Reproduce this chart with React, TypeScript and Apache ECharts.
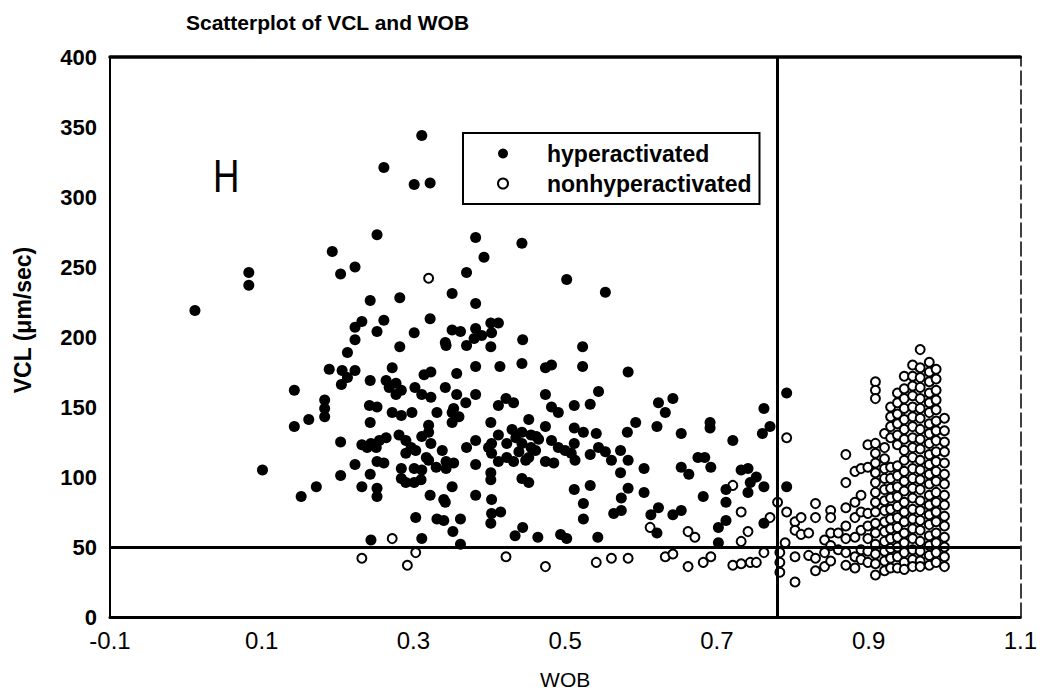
import React, { useEffect, useRef } from "react";
import * as echarts from "echarts";

const FONT = "'Liberation Sans', Arial, Helvetica, sans-serif";

const TITLE = "Scatterplot of VCL and WOB";
const X_NAME = "WOB";
const Y_NAME = "VCL (\u03bcm/sec)";
const PANEL_LABEL = "H";
const SERIES_NAMES = ["hyperactivated", "nonhyperactivated"];

const X_MIN = -0.1;
const X_MAX = 1.1;
const X_TICKS = [-0.1, 0.1, 0.3, 0.5, 0.7, 0.9, 1.1];
const Y_MIN = 0;
const Y_MAX = 400;
const Y_STEP = 50;

const WOB_THRESHOLD = 0.775;
const VCL_THRESHOLD = 50;

// [WOB, VCL]
const hyperactivated: [number, number][] = [
  [0.012, 219], [0.083, 246], [0.083, 237], [0.101, 105],
  [0.143, 162], [0.143, 136], [0.162, 141], [0.152, 86], [0.172, 93],
  [0.183, 155], [0.183, 149], [0.183, 143],
  [0.193, 261], [0.189, 177], [0.204, 245], [0.206, 176], [0.205, 166], [0.204, 125], [0.204, 101],
  [0.213, 189], [0.213, 171],
  [0.223, 250], [0.223, 207], [0.223, 198], [0.223, 176], [0.223, 109],
  [0.232, 211], [0.232, 123], [0.232, 93],
  [0.243, 226], [0.243, 169], [0.242, 151], [0.243, 139], [0.244, 124], [0.239, 121], [0.243, 102], [0.244, 55],
  [0.252, 273], [0.252, 204], [0.252, 150], [0.255, 126], [0.251, 121], [0.252, 111], [0.252, 92], [0.252, 86],
  [0.261, 321], [0.261, 212], [0.264, 169], [0.264, 128], [0.261, 110],
  [0.272, 178], [0.268, 164], [0.272, 146],
  [0.282, 228], [0.282, 193], [0.277, 167], [0.277, 159], [0.284, 162], [0.284, 144], [0.281, 130], [0.284, 106], [0.284, 99],
  [0.29, 126], [0.29, 117], [0.29, 96],
  [0.301, 309], [0.301, 203], [0.302, 164], [0.298, 146], [0.297, 121], [0.303, 119], [0.301, 106], [0.301, 96], [0.303, 71],
  [0.311, 344], [0.314, 173], [0.311, 159], [0.311, 129], [0.317, 114], [0.311, 105], [0.31, 98], [0.311, 56],
  [0.322, 310], [0.322, 213], [0.323, 175], [0.323, 157], [0.32, 137], [0.32, 132], [0.323, 124], [0.32, 112], [0.322, 87],
  [0.331, 146], [0.33, 107], [0.331, 70],
  [0.342, 196], [0.343, 194], [0.342, 164], [0.338, 119], [0.343, 111], [0.343, 106], [0.34, 84], [0.342, 82], [0.34, 69],
  [0.351, 231], [0.351, 205], [0.351, 146], [0.353, 149], [0.351, 139], [0.353, 110], [0.351, 93], [0.352, 61],
  [0.362, 204], [0.357, 174], [0.357, 159], [0.36, 143], [0.362, 70], [0.362, 52],
  [0.37, 246], [0.37, 194], [0.369, 153], [0.37, 121],
  [0.382, 271], [0.382, 224], [0.382, 206], [0.38, 199], [0.382, 179], [0.382, 159], [0.382, 126], [0.382, 109], [0.382, 87],
  [0.393, 257], [0.39, 201],
  [0.402, 210], [0.403, 203], [0.402, 193], [0.402, 139], [0.403, 124], [0.399, 121], [0.403, 117], [0.402, 103], [0.402, 98], [0.403, 84], [0.403, 74], [0.402, 67],
  [0.412, 210], [0.414, 179], [0.412, 151], [0.412, 130], [0.412, 111], [0.415, 75],
  [0.422, 156], [0.423, 124], [0.423, 114],
  [0.432, 153], [0.43, 134], [0.435, 128], [0.432, 111], [0.434, 58],
  [0.443, 267], [0.444, 198], [0.443, 181], [0.443, 132], [0.443, 124], [0.439, 118], [0.448, 112], [0.443, 99], [0.444, 64],
  [0.452, 141], [0.455, 130], [0.455, 121], [0.452, 114], [0.452, 96],
  [0.462, 129], [0.461, 119], [0.465, 127], [0.464, 57],
  [0.474, 178], [0.474, 159], [0.474, 136], [0.474, 111],
  [0.482, 180], [0.482, 150], [0.482, 126], [0.485, 110],
  [0.491, 146], [0.491, 121], [0.494, 59],
  [0.502, 241], [0.5, 119], [0.502, 56],
  [0.512, 151], [0.512, 135], [0.512, 124], [0.508, 117], [0.513, 112], [0.512, 91],
  [0.523, 193], [0.523, 179], [0.524, 132], [0.524, 81], [0.524, 70],
  [0.533, 152], [0.533, 116], [0.533, 94],
  [0.544, 161], [0.541, 131], [0.544, 121], [0.543, 57],
  [0.553, 232], [0.553, 118],
  [0.561, 112], [0.564, 74],
  [0.573, 119], [0.573, 103], [0.574, 85], [0.574, 76],
  [0.583, 175], [0.582, 132], [0.583, 112], [0.583, 92],
  [0.593, 139],
  [0.604, 106], [0.604, 89],
  [0.613, 73],
  [0.623, 153], [0.621, 136], [0.623, 78], [0.621, 60],
  [0.632, 146],
  [0.642, 156], [0.642, 73],
  [0.653, 131], [0.653, 107], [0.653, 76],
  [0.663, 102],
  [0.675, 114],
  [0.684, 114], [0.682, 86],
  [0.691, 139], [0.691, 135], [0.692, 107],
  [0.702, 64], [0.702, 53],
  [0.712, 91], [0.712, 82], [0.712, 69],
  [0.721, 126],
  [0.732, 105],
  [0.741, 106], [0.744, 96], [0.741, 89],
  [0.752, 100],
  [0.762, 149], [0.76, 131], [0.762, 93], [0.762, 67],
  [0.77, 136],
  [0.792, 160], [0.792, 93],
];

// scattered nonhyperactivated cells [WOB, VCL]
const nonhyperScattered: [number, number][] = [
  [0.32, 242], [0.232, 42], [0.272, 56], [0.292, 37], [0.303, 46], [0.422, 43], [0.474, 36],
  [0.541, 39], [0.561, 42], [0.583, 42], [0.612, 64], [0.632, 43], [0.642, 45], [0.662, 36],
  [0.662, 61], [0.671, 57], [0.682, 39], [0.692, 43], [0.721, 94], [0.721, 37], [0.732, 75],
  [0.732, 54], [0.732, 38], [0.741, 61], [0.744, 39], [0.752, 39], [0.762, 46], [0.77, 71],
  [0.78, 82], [0.783, 46], [0.783, 39], [0.783, 32], [0.792, 128], [0.792, 75], [0.79, 53],
];

// dense nonhyperactivated block at high WOB: one WOB value with its VCL readings
const nonhyperColumnWob = [
  0.803, 0.811, 0.821, 0.83, 0.842, 0.85, 0.86, 0.87, 0.882, 0.89, 0.899,
  0.909, 0.921, 0.929, 0.938, 0.947, 0.958, 0.968, 0.98, 0.989, 1.0,
];
const nonhyperColumnVcl: number[][] = [
  [68, 62, 43, 25],
  [71, 59],
  [60, 44],
  [81, 71, 42, 33],
  [55, 46, 36],
  [76, 71, 60, 51, 40],
  [60, 48],
  [116, 96, 78, 65, 56, 46, 37],
  [104, 82, 71, 57, 43, 35],
  [106, 87, 75, 62, 48, 41],
  [123, 107, 74, 65, 56, 47, 39],
  [168, 162, 156, 124, 117, 110, 103, 96, 89, 82, 75, 67, 60, 52, 45, 38, 30],
  [131, 121, 113, 106, 99, 91, 83, 76, 68, 61, 54, 47, 40, 33],
  [150, 143, 136, 128, 107, 99, 92, 85, 77, 70, 63, 56, 49, 42, 35],
  [160, 153, 145, 138, 130, 123, 108, 101, 93, 86, 79, 71, 64, 57, 50, 43, 35],
  [172, 163, 156, 149, 141, 134, 127, 119, 112, 104, 97, 90, 82, 75, 68, 60, 53, 46, 39, 34],
  [180, 172, 165, 158, 150, 143, 136, 128, 121, 114, 106, 99, 92, 85, 77, 70, 63, 56, 48, 41, 36],
  [191, 178, 171, 164, 156, 149, 142, 134, 127, 120, 112, 105, 98, 91, 83, 76, 69, 62, 54, 47, 40, 36],
  [182, 175, 168, 160, 153, 146, 138, 131, 124, 116, 109, 102, 95, 87, 80, 73, 66, 58, 51, 44, 37],
  [177, 170, 162, 155, 148, 140, 133, 126, 118, 111, 104, 97, 89, 82, 75, 68, 60, 53, 46, 39],
  [142, 133, 125, 118, 110, 102, 95, 87, 80, 72, 65, 57, 50, 43, 36],
];

export default function App() {
  const ref = useRef<HTMLDivElement>(null);

  useEffect(() => {
    if (!ref.current) return;
    const chart = echarts.init(ref.current, undefined, { renderer: "svg" });

    const nonhyper: [number, number][] = [...nonhyperScattered];
    nonhyperColumnWob.forEach((w, i) => {
      nonhyperColumnVcl[i].forEach((v) => nonhyper.push([w, v]));
    });

    const hiddenAxisParts = {
      axisTick: { show: false },
      axisLabel: { show: false },
      splitLine: { show: false },
    };

    chart.setOption({
      animation: false,
      backgroundColor: "#fff",
      title: {
        text: TITLE,
        left: 181,
        top: 7,
        textStyle: { fontFamily: FONT, fontSize: 21, fontWeight: "bold", color: "#000" },
      },
      legend: {
        orient: "vertical",
        left: 463,
        top: 133,
        data: SERIES_NAMES,
        itemWidth: 10,
        itemHeight: 10,
        itemGap: 7,
        padding: [9, 8, 9, 34],
        borderColor: "#000",
        borderWidth: 2,
        borderRadius: 0,
        selectedMode: false,
        textStyle: {
          fontFamily: FONT,
          fontSize: 23,
          fontWeight: "bold",
          color: "#000",
          lineHeight: 23,
          padding: [0, 0, 0, 34],
        },
      },
      grid: { left: 110, right: 17, top: 57, bottom: 80, containLabel: false },
      xAxis: [
        {
          type: "value",
          min: X_MIN,
          max: X_MAX,
          name: X_NAME,
          nameLocation: "middle",
          nameGap: 52,
          nameTextStyle: { fontFamily: FONT, fontSize: 21, color: "#000" },
          axisLine: { show: true, onZero: false, lineStyle: { color: "#000", width: 3 } },
          axisTick: { show: false },
          splitLine: { show: false },
          axisLabel: {
            customValues: X_TICKS,
            formatter: (v: number) => v.toFixed(1),
            fontFamily: FONT,
            fontSize: 24,
            color: "#000",
            margin: 11,
          },
        },
        {
          type: "value",
          position: "top",
          min: X_MIN,
          max: X_MAX,
          axisLine: { show: true, onZero: false, lineStyle: { color: "#000", width: 3.5 } },
          ...hiddenAxisParts,
        },
      ],
      yAxis: [
        {
          type: "value",
          min: Y_MIN,
          max: Y_MAX,
          interval: Y_STEP,
          name: Y_NAME,
          nameLocation: "middle",
          nameGap: 76,
          nameRotate: 90,
          nameTextStyle: {
            fontFamily: FONT,
            fontSize: 23,
            fontWeight: "bold",
            color: "#000",
            padding: [0, 0, 0, 34],
          },
          axisLine: { show: true, onZero: false, lineStyle: { color: "#000", width: 2 } },
          axisTick: { show: false },
          splitLine: { show: false },
          axisLabel: {
            fontFamily: FONT,
            fontSize: 22,
            fontWeight: "bold",
            color: "#000",
            margin: 13,
          },
        },
        {
          type: "value",
          position: "right",
          min: Y_MIN,
          max: Y_MAX,
          interval: Y_STEP,
          axisLine: {
            show: true,
            onZero: false,
            lineStyle: { color: "#000", width: 1.5, type: [14, 5] },
          },
          ...hiddenAxisParts,
        },
      ],
      graphic: [
        {
          type: "text",
          left: 213,
          top: 152,
          scaleX: 0.78,
          style: {
            text: PANEL_LABEL,
            fontFamily: FONT,
            fontSize: 47,
            fill: "#000",
          },
        },
      ],
      series: [
        {
          name: SERIES_NAMES[1],
          type: "scatter",
          symbol: "circle",
          symbolSize: 9,
          data: nonhyper,
          itemStyle: { color: "#fff", borderColor: "#000", borderWidth: 2, opacity: 1 },
          z: 2,
        },
        {
          name: SERIES_NAMES[0],
          type: "scatter",
          symbol: "circle",
          symbolSize: 11,
          data: hyperactivated,
          itemStyle: { color: "#000", opacity: 1 },
          z: 3,
        },
        {
          name: "thresholds",
          type: "scatter",
          data: [],
          z: 4,
          markLine: {
            silent: true,
            symbol: ["none", "none"],
            label: { show: false },
            lineStyle: { color: "#000", width: 3, type: "solid" },
            data: [{ yAxis: VCL_THRESHOLD }, { xAxis: WOB_THRESHOLD }],
          },
        },
      ],
    });

    return () => chart.dispose();
  }, []);

  return (
    <div
      ref={ref}
      style={{ position: "fixed", left: 0, top: 0, width: 1040, height: 697, background: "#fff" }}
    />
  );
}
